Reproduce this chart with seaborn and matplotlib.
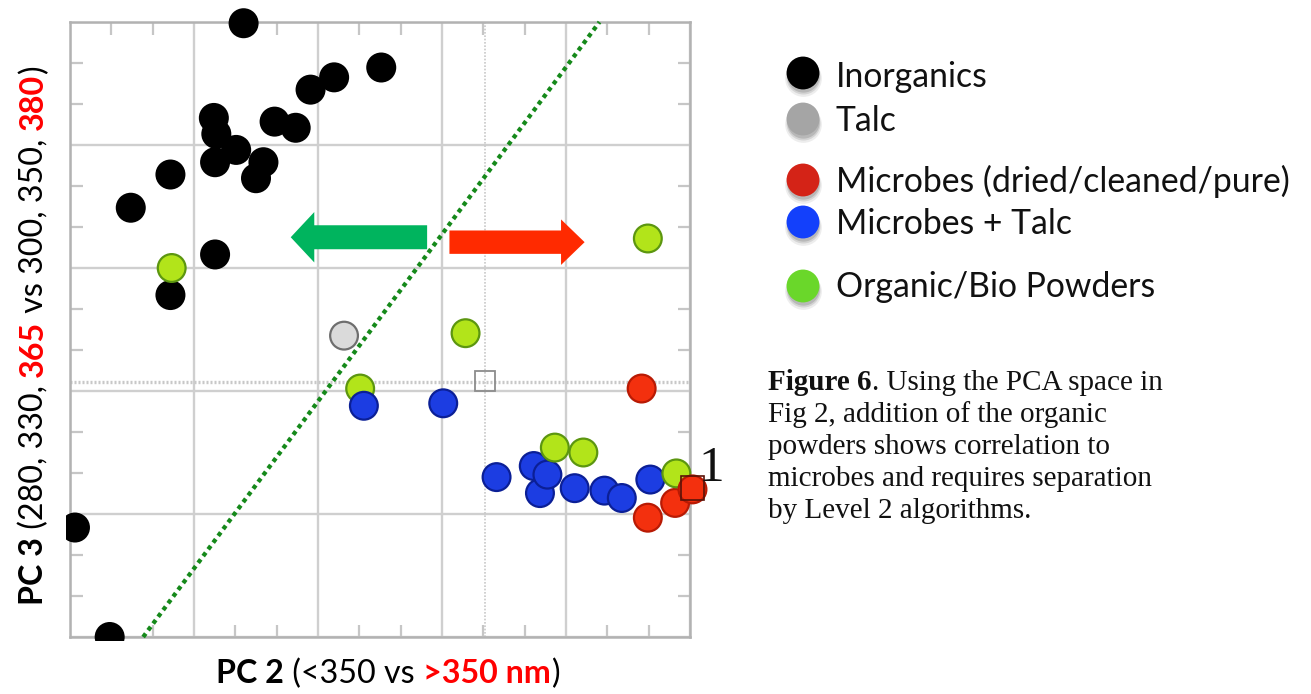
import numpy as np
import pandas as pd
import matplotlib
matplotlib.use("Agg")
import matplotlib.pyplot as plt
import seaborn as sns
from matplotlib.patches import FancyArrow, Rectangle
from matplotlib.transforms import Bbox, TransformedBbox
from matplotlib.ticker import MultipleLocator
from matplotlib.font_manager import FontProperties

# ---------------- PCA scores (PC 2, PC 3) per sample group ----------------
inorganics_pc2 = [-1.60, -0.49, -0.87, -1.06, -1.84, -1.35, -1.18, -1.82, -1.66,
                  -1.83, -1.44, -1.50, -2.19, -2.51, -1.83, -2.19, -2.96, -2.68]
inorganics_pc3 = [2.99, 2.63, 2.55, 2.45, 2.22, 2.19, 2.14, 2.09, 1.96,
                  1.86, 1.86, 1.73, 1.76, 1.49, 1.11, 0.78, -1.11, -2.00]

talc_pc2 = [-0.79]
talc_pc3 = [0.45]

microbes_pc2 = [1.61, 2.02, 1.88, 1.66]
microbes_pc3 = [0.02, -0.80, -0.91, -1.03]

microbes_talc_pc2 = [-0.63, 0.01, 0.44, 0.74, 0.85, 0.79, 1.07, 1.31, 1.45, 1.68]
microbes_talc_pc3 = [-0.12, -0.10, -0.70, -0.61, -0.68, -0.83, -0.79, -0.81, -0.87, -0.72]

organic_pc2 = [-2.18, 1.66, 0.19, -0.66, 0.91, 1.14, 1.89]
organic_pc3 = [1.00, 1.24, 0.47, 0.02, -0.46, -0.50, -0.67]

groups = ["Inorganics", "Talc", "Microbes (dried/cleaned/pure)",
          "Microbes + Talc", "Organic/Bio Powders"]

# separating boundary between the two regions (PC 2, PC 3 end points)
boundary_pc2 = [-2.41, 1.27]
boundary_pc3 = [-2.00, 3.00]

# ---------------- styling ----------------
face_colors = {
    "Inorganics": "#000000",
    "Talc": "#dadada",
    "Microbes (dried/cleaned/pure)": "#f3300e",
    "Microbes + Talc": "#1c3de2",
    "Organic/Bio Powders": "#b2e41a",
}
edge_colors = {
    "Inorganics": "#000000",
    "Talc": "#6e6e6e",
    "Microbes (dried/cleaned/pure)": "#b81a04",
    "Microbes + Talc": "#0b1f96",
    "Organic/Bio Powders": "#5c9610",
}
legend_colors = ["#000000", "#a5a5a5", "#d42317", "#1340fb", "#6ad72a"]

sns.set_style("white")
plt.rcParams["font.family"] = ["Lato", "DejaVu Sans"]

W, H = 1311, 694
fig = plt.figure(figsize=(W / 100, H / 100), dpi=100)
ax = fig.add_axes([70 / W, 1 - 637 / H, 620 / W, 615 / H])

df = pd.DataFrame({
    "PC2": inorganics_pc2 + talc_pc2 + microbes_pc2 + microbes_talc_pc2 + organic_pc2,
    "PC3": inorganics_pc3 + talc_pc3 + microbes_pc3 + microbes_talc_pc3 + organic_pc3,
    "group": ([groups[0]] * len(inorganics_pc2) + [groups[1]] * len(talc_pc2)
              + [groups[2]] * len(microbes_pc2) + [groups[3]] * len(microbes_talc_pc2)
              + [groups[4]] * len(organic_pc2)),
})
# draw back-to-front along PC 2
df = df.sort_values("PC2", kind="stable").reset_index(drop=True)

# grid / frame
ax.set_xlim(-3, 2)
ax.set_ylim(-2, 3)
ax.set_xticks(np.arange(-3, 3))
ax.set_yticks(np.arange(-2, 4))
ax.xaxis.set_minor_locator(MultipleLocator(1 / 3))
ax.yaxis.set_minor_locator(MultipleLocator(1 / 3))
ax.tick_params(which="major", length=0, labelbottom=False, labelleft=False)
ax.tick_params(which="minor", direction="in", length=9, width=1.6, color="#c6c6c6",
               top=True, right=True, bottom=True, left=True)
ax.grid(True, which="major", color="#cfcfcf", lw=1.7, zorder=0)
ax.set_axisbelow(True)
for sp in ax.spines.values():
    sp.set_color("#b2b2b2")
    sp.set_linewidth(1.8)

# cursor cross-hair
cursor_pc2, cursor_pc3 = 0.35, 0.08
ax.axvline(cursor_pc2, color="#c8c8c8", lw=1.2, ls=(0, (1, 1)), zorder=1)
ax.axhline(cursor_pc3 - 0.01, color="#c8c8c8", lw=2.4, ls=(0, (0.6, 0.6)), zorder=1)
ax.add_patch(Rectangle((cursor_pc2 - 0.08, cursor_pc3 - 0.08), 0.16, 0.163,
                       fill=False, ec="#8c8c8c", lw=1.3, zorder=2))

# separation line
ax.plot(boundary_pc2, boundary_pc3, color="#15891a", lw=3.1, ls=(0, (1, 0.95)),
        zorder=3, clip_on=False)

# arrows
ax.add_patch(FancyArrow(-0.12, 1.25, -1.10, 0, width=0.195, head_width=0.41,
                        head_length=0.19, length_includes_head=True,
                        color="#00b45e", lw=0, zorder=3))
ax.add_patch(FancyArrow(0.06, 1.21, 1.09, 0, width=0.19, head_width=0.37,
                        head_length=0.19, length_includes_head=True,
                        color="#ff2a00", lw=0, zorder=3))

# samples
sns.scatterplot(data=df, x="PC2", y="PC3", hue="group", hue_order=groups,
                palette=face_colors, s=400, linewidth=1.6, legend=False,
                ax=ax, zorder=4)
pts = ax.collections[-1]
pts.set_edgecolors([edge_colors[g] for g in df["group"]])
pts.set_clip_box(TransformedBbox(Bbox([[-0.006, -0.006], [1.3, 1.3]]), ax.transAxes))
ax.set_xlabel("")
ax.set_ylabel("")

# viewer axis marker
ax.add_patch(Rectangle((1.925, -0.885), 0.19, 0.19, fill=False, ec="#5a1208",
                       lw=1.2, zorder=5, clip_on=False))
ax.text(2.17, -0.63, "1", fontsize=37, family="Liberation Serif", color="#111111",
        ha="center", va="center", zorder=6, clip_on=False)

# ---------------- overlay in pixel units: legend, labels, caption ----------------
ov = fig.add_axes([0, 0, 1, 1], zorder=10)
ov.set_xlim(0, W)
ov.set_ylim(H, 0)
ov.axis("off")
ov.patch.set_visible(False)

legend_x = 803
legend_y = [73, 119, 180, 222, 286]
legend_text_y = [87, 131, 192, 234, 297]
for cy in legend_y:
    for dy, a, s in [(5, 0.10, 700), (4, 0.16, 600), (3, 0.22, 540)]:
        ov.scatter([legend_x], [cy + dy], s=s, color="#555555", alpha=a, lw=0, zorder=1)
sns.scatterplot(x=[legend_x] * len(groups), y=legend_y, hue=groups, hue_order=groups,
                palette=legend_colors, s=560, linewidth=0, legend=False, ax=ov, zorder=2)
for ty, g in zip(legend_text_y, groups):
    ov.text(836, ty, g, fontsize=24.3, family="Lato", color="#111111",
            ha="left", va="baseline")

fig.canvas.draw()
renderer = fig.canvas.get_renderer()


def advance(s, prop):
    w1, _, _ = renderer.get_text_width_height_descent(s + "|", prop, ismath=False)
    w2, _, _ = renderer.get_text_width_height_descent("|", prop, ismath=False)
    return w1 - w2


def rich_text(pieces, x, y, size, family, vertical=False, center=None):
    props = [FontProperties(family=family, size=size, weight=wt) for _, _, wt in pieces]
    widths = [advance(t, p) for (t, _, _), p in zip(pieces, props)]
    total = sum(widths)
    if vertical:
        pos = center + total / 2 if center is not None else y
    else:
        pos = center - total / 2 if center is not None else x
    for (t, col, wt), p, w in zip(pieces, props, widths):
        if vertical:
            ov.text(x, pos, t, fontproperties=p, color=col, rotation=90,
                    rotation_mode="anchor", ha="left", va="baseline")
            pos -= w
        else:
            ov.text(pos, y, t, fontproperties=p, color=col, ha="left", va="baseline")
            pos += w


RED = "#ff0000"
rich_text([("PC 2", "black", "bold"), (" (<350 vs ", "black", "normal"),
           (">350 nm", RED, "bold"), (")", "black", "normal")],
          0, 683, 23.2, "Lato", center=388)
rich_text([("PC 3", "black", "bold"), (" (280, 330, ", "black", "normal"),
           ("365", RED, "bold"), (" vs 300, 350, ", "black", "normal"),
           ("380", RED, "bold"), (")", "black", "normal")],
          43, 0, 23.2, "Lato", vertical=True, center=335)

# caption
cap_lines = [
    [("Figure 6", "bold"), (". Using the PCA space in", "normal")],
    [("Fig 2, addition of the organic", "normal")],
    [("powders shows correlation to", "normal")],
    [("microbes and requires separation", "normal")],
    [("by Level 2 algorithms.", "normal")],
]
cap_base = [390, 422, 454, 486, 518]
for line, by in zip(cap_lines, cap_base):
    rich_text([(t, "#111111", wt) for t, wt in line], 768, by, 21, "Liberation Serif")

fig.savefig("out.png", dpi=100)
